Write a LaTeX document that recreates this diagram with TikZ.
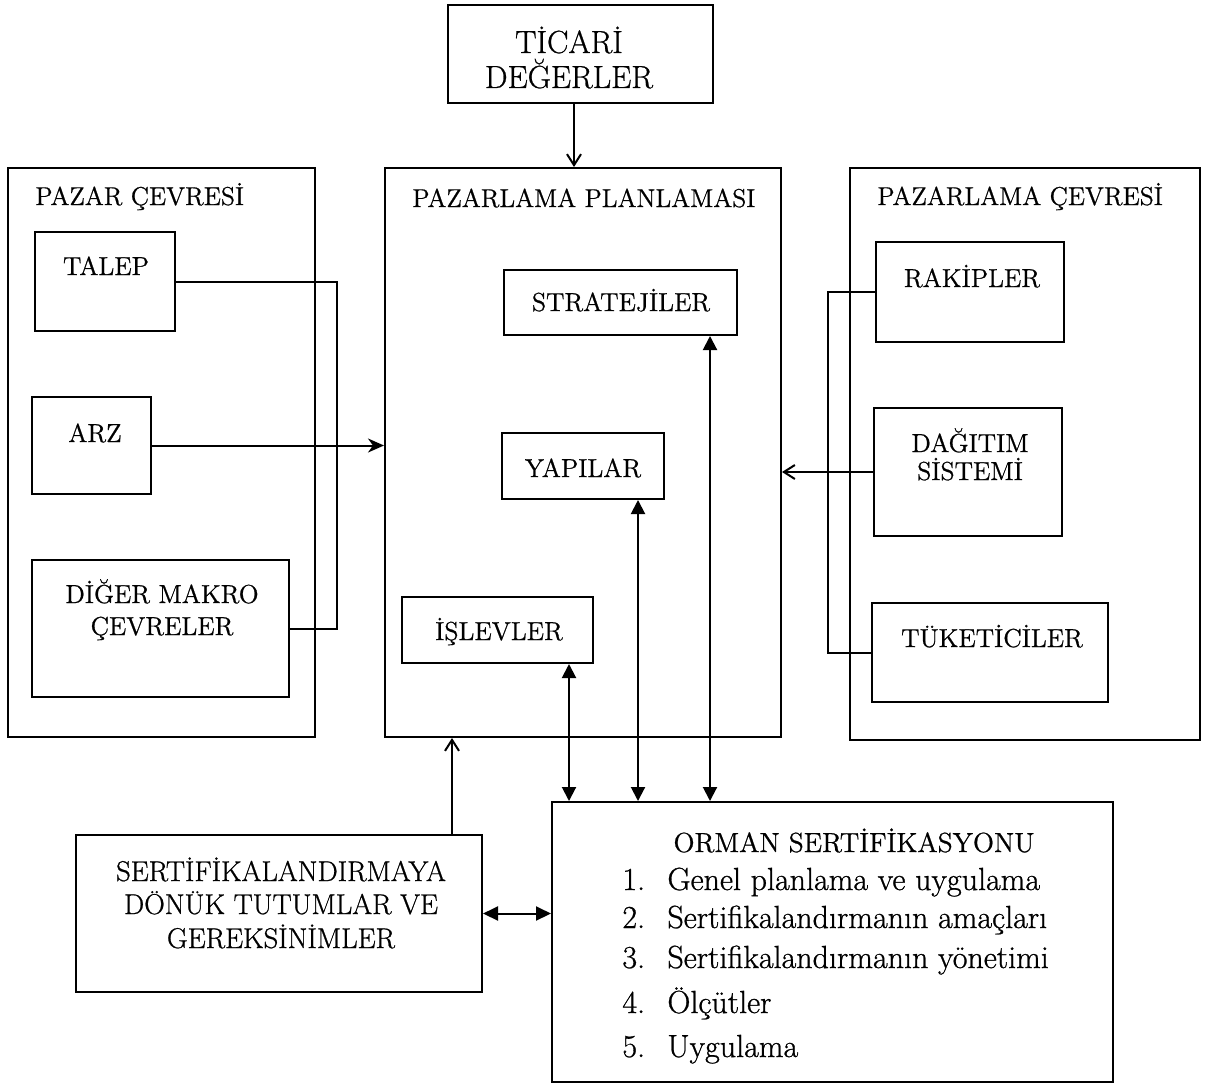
\documentclass[tikz,border=0pt]{standalone}
\usepackage{fontspec}
\setmainfont{Latin Modern Roman}[FakeBold=0.8]
\usetikzlibrary{arrows.meta}
\begin{document}
\begin{tikzpicture}[x=0.5pt,y=-0.5pt,
  box/.style={draw, line width=1pt, rectangle, inner sep=0pt},
  lbl/.style={inner sep=0pt, anchor=base, font=\fontsize{13}{15}\selectfont},
  ttl/.style={inner sep=0pt, anchor=base west, font=\fontsize{12.9}{15}\selectfont},
  big/.style={inner sep=0pt, anchor=base, font=\fontsize{16}{19}\selectfont},
  sert/.style={inner sep=0pt, anchor=base, font=\fontsize{14.3}{17}\selectfont},
  otitle/.style={inner sep=0pt, anchor=base, font=\fontsize{13.8}{16}\selectfont},
  item/.style={inner sep=0pt, anchor=base west, font=\fontsize{16}{19}\selectfont},
  conn/.style={line width=1pt},
  chev/.style={line width=1pt, -{Straight Barb[length=5.5pt,width=7pt,line width=1pt]}},
  stl/.style={line width=1pt, -{Stealth[length=8pt,width=7pt,inset=2.5pt]}},
  dbl/.style={line width=1pt, {Triangle[length=7pt,width=7pt]}-{Triangle[length=7pt,width=7pt]}},
  dblw/.style={line width=1pt, {Triangle[length=7.5pt,width=7pt]}-{Triangle[length=7.5pt,width=7pt]}}
]
\fill[white] (0,0) rectangle (1218,1086);
\useasboundingbox (0,0) rectangle (1218,1086);

% column / bus coordinates
\coordinate (lbus) at (337,0);
\coordinate (rbus) at (828,0);
\coordinate (c0) at (574,0);
\coordinate (c1) at (569,0);
\coordinate (c2) at (638,0);
\coordinate (c3) at (710,0);
\coordinate (c4) at (452,0);

% boxes
\node[box, minimum width=132.5pt, minimum height=49pt] (tic) at (580.5,54) {};
\node[box, minimum width=153.5pt, minimum height=284.5pt] (pc) at (161.5,452.5) {};
\node[box, minimum width=198pt, minimum height=284.5pt] (pp) at (583,452.5) {};
\node[box, minimum width=175pt, minimum height=286pt] (pmc) at (1025,454) {};
\node[box, minimum width=70pt, minimum height=49.5pt] (talep) at (105,281.5) {};
\node[box, minimum width=59.5pt, minimum height=48.5pt] (arz) at (91.5,445.5) {};
\node[box, minimum width=128.5pt, minimum height=68.5pt] (diger) at (160.5,628.5) {};
\node[box, minimum width=94pt, minimum height=50pt] (rak) at (970,292) {};
\node[box, minimum width=94pt, minimum height=64pt] (dag) at (968,472) {};
\node[box, minimum width=118pt, minimum height=49.5pt] (tuk) at (990,652.5) {};
\node[box, minimum width=116.5pt, minimum height=32.5pt] (str) at (620.5,302.5) {};
\node[box, minimum width=81pt, minimum height=33pt] (yap) at (583,466) {};
\node[box, minimum width=95.5pt, minimum height=33pt] (isl) at (497.5,630) {};
\node[box, minimum width=280.5pt, minimum height=140pt] (orm) at (832.5,942) {};
\node[box, minimum width=203pt, minimum height=78.5pt] (srt) at (279,913.5) {};

% texts
\node[big] (tic1) at (569,53) {TİCARİ};
\node[big] (tic2) at (569,88) {DEĞERLER};
\node[ttl] (pct) at (35,205) {PAZAR ÇEVRESİ};
\node[ttl] (ppt) at (412,207) {PAZARLAMA PLANLAMASI};
\node[ttl] (pmct) at (877,205) {PAZARLAMA ÇEVRESİ};
\node[lbl] (talept) at (106,275) {TALEP};
\node[lbl] (arzt) at (95,442) {ARZ};
\node[lbl] (diger1) at (162,603) {DİĞER MAKRO};
\node[lbl] (diger2) at (162,635) {ÇEVRELER};
\node[lbl] (rakt) at (972,287) {RAKİPLER};
\node[lbl] (dag1) at (970,452) {DAĞITIM};
\node[lbl] (dag2) at (970,480) {SİSTEMİ};
\node[lbl] (tukt) at (992,647) {TÜKETİCİLER};
\node[lbl] (strt) at (621,311) {STRATEJİLER};
\node[lbl] (yapt) at (583,477) {YAPILAR};
\node[lbl] (islt) at (499,640) {İŞLEVLER};
\node[sert] (s1) at (281,881) {SERTİFİKALANDIRMAYA};
\node[sert] (s2) at (281,914) {DÖNÜK TUTUMLAR VE};
\node[sert] (s3) at (281,948) {GEREKSİNİMLER};
\node[otitle] (ot) at (854,852) {ORMAN SERTİFİKASYONU};
\node[item] (n1) at (622,890) {1.};
\node[item] (i1) at (667,890) {Genel planlama ve uygulama};
\node[item] (n2) at (622,928) {2.};
\node[item] (i2) at (667,928) {Sertifikalandırmanın amaçları};
\node[item] (n3) at (622,968) {3.};
\node[item] (i3) at (667,968) {Sertifikalandırmanın yönetimi};
\node[item] (n4) at (622,1013) {4.};
\node[item] (i4) at (667,1013) {Ölçütler};
\node[item] (n5) at (622,1057) {5.};
\node[item] (i5) at (667,1057) {Uygulama};

% connectors
\draw[chev] (c0 |- tic.south) -- (c0 |- pp.north);
\draw[conn] (talep.east) -| (lbus |- diger.east) -- (diger.east);
\draw[stl] (arz.east) -- (arz.east -| pp.west);
\draw[conn] (rak.west) -| (rbus |- tuk.west) -- (tuk.west);
\draw[chev] (dag.west) -- (dag.west -| pp.east);
\draw[dbl] (c1 |- isl.south) -- (c1 |- orm.north);
\draw[dbl] (c2 |- yap.south) -- (c2 |- orm.north);
\draw[dbl] (c3 |- str.south) -- (c3 |- orm.north);
\draw[chev] (c4 |- srt.north) -- (c4 |- pp.south);
\draw[dblw] (srt.east) -- (srt.east -| orm.west);
\end{tikzpicture}
\end{document}
